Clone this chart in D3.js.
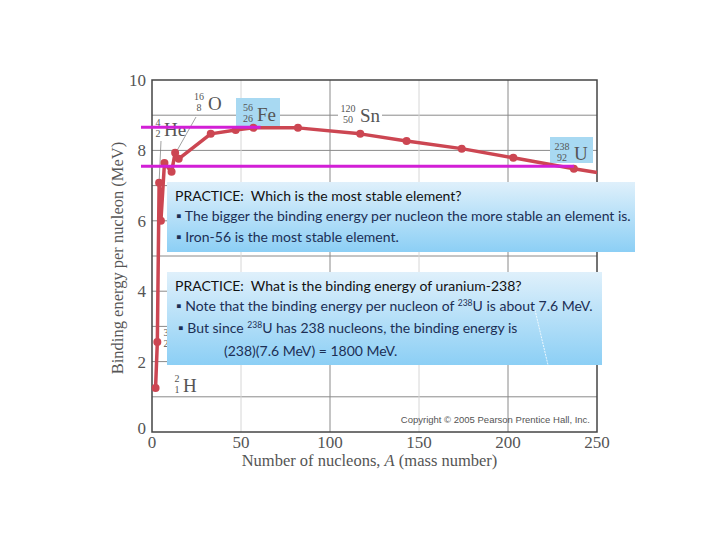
<!DOCTYPE html>
<html lang="en">
  <head>
    <meta charset="utf-8" />
    <title>Binding energy per nucleon</title>
    <script src="https://cdn.jsdelivr.net/npm/d3@7"></script>
    <style>
      body { margin: 0; background: #fff; }
      svg { display: block; }
      text { white-space: pre; }
    </style>
  </head>
  <body>
    <script>
      // curve: mass number A and MeV per nucleon
      var massNumbers = [2, 3, 4, 5, 7, 11, 13, 15, 33, 47, 57, 82, 117, 143, 174, 203, 237, 250];
      var bindingEnergy = [1.25, 2.56, 7.08, 6.0, 7.64, 7.39, 7.93, 7.76, 8.47, 8.58, 8.64, 8.64, 8.47, 8.27, 8.05, 7.79, 7.48, 7.37];
      var xTicks = [0, 50, 100, 150, 200, 250];
      var yTicks = [0, 2, 4, 6, 8, 10];
      var yGrid = [1, 2, 3, 4, 5, 6, 7, 8, 9];
      var refLevels = [
        { value: 8.66, toA: 61 },   // Fe
        { value: 7.55, toA: 237 }   // U
      ];

      var w = 720, h = 540;
      var plotL = 152, plotR = 597, plotT = 80, plotB = 432;

      var x = d3.scaleLinear().domain([0, 250]).range([plotL, plotR]);
      var y = d3.scaleLinear().domain([0, 10]).range([plotB, plotT]);

      var svg = d3.select("body").append("svg").attr("width", w).attr("height", h);

      var defs = svg.append("defs");
      var grad = defs.append("linearGradient").attr("id", "boxFill")
        .attr("x1", 0).attr("y1", 0).attr("x2", 0).attr("y2", 1);
      grad.append("stop").attr("offset", "0%").attr("stop-color", "#dff0fb");
      grad.append("stop").attr("offset", "100%").attr("stop-color", "#8ccff5");

      // grid
      svg.selectAll("line.hgrid").data(yGrid).enter().append("line")
        .attr("x1", plotL).attr("x2", plotR)
        .attr("y1", function (d) { return y(d); })
        .attr("y2", function (d) { return y(d); })
        .attr("stroke", "#8a8a8a").attr("stroke-width", 1);
      svg.selectAll("line.vgrid").data(xTicks.slice(1, -1)).enter().append("line")
        .attr("y1", plotT).attr("y2", plotB)
        .attr("x1", function (d) { return x(d); })
        .attr("x2", function (d) { return x(d); })
        .attr("stroke", function (d) { return d % 100 === 0 ? "#8a8a8a" : "#d6d6d6"; })
        .attr("stroke-width", 1);

      // frame
      svg.append("rect").attr("x", plotL).attr("y", plotT)
        .attr("width", plotR - plotL).attr("height", plotB - plotT)
        .attr("fill", "none").attr("stroke", "#444").attr("stroke-width", 1.5);

      // tick labels
      var serif = "'Liberation Serif', 'DejaVu Serif', serif";
      svg.selectAll("text.xt").data(xTicks).enter().append("text")
        .attr("x", function (d) { return x(d); })
        .attr("y", plotB + 16)
        .attr("text-anchor", "middle")
        .attr("font-family", serif).attr("font-size", 17).attr("fill", "#555")
        .text(function (d) { return d; });
      svg.selectAll("text.yt").data(yTicks).enter().append("text")
        .attr("x", plotL - 6)
        .attr("y", function (d) { return y(d) + (d === 0 ? 2 : 6); })
        .attr("text-anchor", "end")
        .attr("font-family", serif).attr("font-size", 17).attr("fill", "#555")
        .text(function (d) { return d; });

      // axis titles
      var xt = svg.append("text").attr("x", (plotL + plotR) / 2 - 5).attr("y", 466)
        .attr("text-anchor", "middle")
        .attr("font-family", serif).attr("font-size", 16.5).attr("fill", "#555");
      xt.append("tspan").text("Number of nucleons, ");
      xt.append("tspan").attr("font-style", "italic").text("A");
      xt.append("tspan").text(" (mass number)");
      svg.append("text")
        .attr("transform", "translate(123," + (y(5) + 2) + ") rotate(-90)")
        .attr("text-anchor", "middle")
        .attr("font-family", serif).attr("font-size", 16.5).attr("fill", "#555")
        .text("Binding energy per nucleon (MeV)");

      // copyright
      svg.append("text").attr("x", plotR - 7).attr("y", 423)
        .attr("text-anchor", "end")
        .attr("font-family", "'Liberation Sans', Arial, sans-serif")
        .attr("font-size", 9.5).attr("fill", "#555")
        .text("Copyright \u00a9 2005 Pearson Prentice Hall, Inc.");

      // nuclide labels
      function nuclide(g, mass, z, sym, xPos, yBase) {
        var t = g.append("g").attr("font-family", serif).attr("fill", "#555");
        t.append("text").attr("x", xPos).attr("y", yBase - 10)
          .attr("font-size", 10).attr("text-anchor", "middle").text(mass);
        t.append("text").attr("x", xPos).attr("y", yBase + 1)
          .attr("font-size", 10).attr("text-anchor", "middle").text(z);
        t.append("text").attr("x", xPos + (String(mass).length * 3 + 3)).attr("y", yBase)
          .attr("font-size", 19).text(sym);
      }
      var labels = svg.append("g");

      // highlight patches behind Fe and U; white behind Sn
      labels.append("rect").attr("x", 236).attr("y", 98).attr("width", 44).attr("height", 28).attr("fill", "#a8d9f2");
      labels.append("rect").attr("x", 550).attr("y", 137).attr("width", 43).attr("height", 26).attr("fill", "#a8d9f2");
      labels.append("rect").attr("x", 338).attr("y", 100).attr("width", 44).attr("height", 26).attr("fill", "#fff");

      nuclide(labels, 56, 26, "Fe", 248, 121);
      nuclide(labels, 120, 50, "Sn", 348, 122);
      nuclide(labels, 238, 92, "U", 562, 160);
      nuclide(labels, 16, 8, "O", 199, 110);
      nuclide(labels, 4, 2, "He", 158, 136);
      nuclide(labels, 2, 1, "H", 177, 392);
      nuclide(labels, 3, 2, "He", 166, 346);

      // leader lines for O and He
      labels.append("line").attr("x1", 196).attr("y1", 117).attr("x2", x(13)).attr("y2", y(7.9))
        .attr("stroke", "#777").attr("stroke-width", 0.7);
      labels.append("line").attr("x1", 161).attr("y1", 141).attr("x2", x(4)).attr("y2", y(7.1))
        .attr("stroke", "#777").attr("stroke-width", 0.7);

      // curve
      var pts = massNumbers.map(function (a, i) { return [a, bindingEnergy[i]]; });
      var line = d3.line()
        .x(function (d) { return x(d[0]); })
        .y(function (d) { return y(d[1]); });
      svg.append("path").datum(pts).attr("d", line)
        .attr("fill", "none").attr("stroke", "#cc4652").attr("stroke-width", 3.5)
        .attr("stroke-linejoin", "round");
      svg.selectAll("circle.pt").data(pts.slice(0, -1)).enter().append("circle")
        .attr("cx", function (d) { return x(d[0]); })
        .attr("cy", function (d) { return y(d[1]); })
        .attr("r", 4).attr("fill", "#cc4652");

      // magenta reference levels
      svg.selectAll("line.ref").data(refLevels).enter().append("line")
        .attr("x1", 141).attr("x2", function (d) { return x(d.toA); })
        .attr("y1", function (d) { return y(d.value); })
        .attr("y2", function (d) { return y(d.value); })
        .attr("stroke", "#d21fd6").attr("stroke-width", 3);

      // practice boxes
      var sans = "Lato, 'Open Sans', sans-serif";
      function box(bx, by, bw, bh, lines) {
        var g = svg.append("g");
        g.append("rect").attr("x", bx).attr("y", by).attr("width", bw).attr("height", bh)
          .attr("fill", "url(#boxFill)");
        lines.forEach(function (l) {
          var t = g.append("text").attr("x", l.x).attr("y", l.y)
            .attr("font-family", sans).attr("font-size", 14)
            .attr("fill", l.head ? "#111" : "#1c2f55");
          l.parts.forEach(function (p) {
            var s = t.append("tspan").text(p.t);
            if (p.sup) s.attr("font-size", 8.5).attr("dy", -5);
            if (p.after) s.attr("dy", 5);
          });
        });
        return g;
      }

      box(167, 182, 468, 70, [
        { x: 175, y: 201, head: true, parts: [{ t: "PRACTICE:  Which is the most stable element?" }] },
        { x: 176, y: 221, parts: [{ t: "\u25aa The bigger the binding energy per nucleon the more stable an element is." }] },
        { x: 176, y: 242, parts: [{ t: "\u25aa Iron-56 is the most stable element." }] }
      ]);

      var b2 = box(167, 272, 435, 93, [
        { x: 175, y: 291, head: true, parts: [{ t: "PRACTICE:  What is the binding energy of uranium-238?" }] },
        { x: 176, y: 311, parts: [{ t: "\u25aa Note that the binding energy per nucleon of " }, { t: "238", sup: true }, { t: "U is about 7.6 MeV.", after: true }] },
        { x: 178, y: 333, parts: [{ t: "\u25aa But since " }, { t: "238", sup: true }, { t: "U has 238 nucleons, the binding energy is", after: true }] },
        { x: 224, y: 356, parts: [{ t: "(238)(7.6 MeV) = 1800 MeV." }] }
      ]);
      b2.append("line").attr("x1", 535).attr("y1", 310).attr("x2", 548).attr("y2", 365)
        .attr("stroke", "#fff").attr("stroke-width", 0.8).attr("stroke-dasharray", "2,1");
    </script>
  </body>
</html>
